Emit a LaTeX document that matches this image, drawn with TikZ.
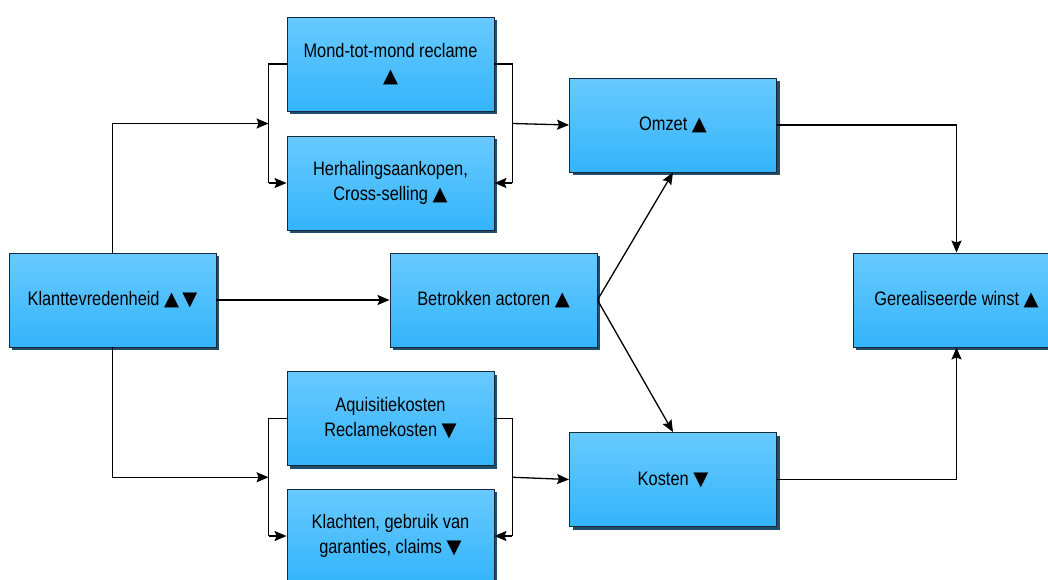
\documentclass[tikz,border=0pt]{standalone}
\usepackage{fontspec}
\setmainfont{Liberation Sans}[FakeStretch=0.84]
\newfontfamily\symfont{DejaVu Sans}
\usetikzlibrary{arrows.meta,shadows,calc}

\newcommand{\op}{{\symfont ▲}}
\newcommand{\neer}{{\symfont ▼}}

\definecolor{boxtop}{RGB}{104,202,255}
\definecolor{boxbot}{RGB}{52,180,250}
\definecolor{boxline}{RGB}{22,40,58}
\definecolor{boxshadow}{RGB}{34,78,110}

\tikzset{
  blok/.style={rectangle, draw=boxline, line width=0.9pt,
    top color=boxtop, bottom color=boxbot,
    minimum width=207pt, minimum height=94pt, inner sep=0pt,
    align=center, text=black,
    font=\fontsize{19.5}{25}\selectfont,
    general shadow={fill=boxshadow, shadow xshift=3pt, shadow yshift=-3pt}},
  verb/.style={line width=1.3pt, draw=black},
  pijl/.style={verb, -{Stealth[length=12pt,width=10pt,inset=2pt]}}
}

\begin{document}
\begin{tikzpicture}[x=1pt,y=-1pt]
\useasboundingbox (0,0) rectangle (1048,579);
\clip (0,0) rectangle (1048,579);

% boxes
\node[blok] (mond)   at (390.5,64)   {Mond-tot-mond reclame\\\op};
\node[blok] (herh)   at (390.5,183)  {Herhalingsaankopen,\\Cross-selling \op};
\node[blok] (omzet)  at (673,125)    {Omzet \op};
\node[blok] (klant)  at (112.5,300)  {Klanttevredenheid \op\,\neer};
\node[blok] (betr)   at (493.5,300)  {Betrokken actoren \op};
\node[blok] (winst)  at (956.5,300)  {Gerealiseerde winst \op};
\node[blok] (aqu)    at (390.5,418.5){Aquisitiekosten\\Reclamekosten \neer};
\node[blok] (klach)  at (390.5,536)  {Klachten, gebruik van\\garanties, claims \neer};
\node[blok] (kosten) at (673,479.5)  {Kosten \neer};

% bracket points
\coordinate (lb1) at ($(mond.west)+(-18,0)$);
\coordinate (lb2) at ($(herh.west)+(-18,0)$);
\coordinate (lbm) at ($(lb1)!0.5!(lb2)$);
\coordinate (rb1) at ($(mond.east)+(18,0)$);
\coordinate (rb2) at ($(herh.east)+(18,0)$);
\coordinate (rbm) at ($(rb1)!0.5!(rb2)$);
\coordinate (lc1) at ($(aqu.west)+(-18,0)$);
\coordinate (lc2) at ($(klach.west)+(-18,0)$);
\coordinate (lcm) at ($(lc1)!0.5!(lc2)$);
\coordinate (rc1) at ($(aqu.east)+(18,0)$);
\coordinate (rc2) at ($(klach.east)+(18,0)$);
\coordinate (rcm) at ($(rc1)!0.5!(rc2)$);

% upper branch
\draw[pijl] (klant.north) |- (lbm);
\draw[verb] (mond.west) -- (lb1) -- (lb2);
\draw[pijl] (lb2) -- (herh.west);
\draw[verb] (mond.east) -- (rb1) -- (rb2);
\draw[pijl] (rb2) -- (herh.east);
\draw[pijl] (rbm) -- (omzet.west);

% lower branch
\draw[pijl] (klant.south) |- (lcm);
\draw[verb] (aqu.west) -- (lc1) -- (lc2);
\draw[pijl] (lc2) -- (klach.west);
\draw[verb] (aqu.east) -- (rc1) -- (rc2);
\draw[pijl] (rc2) -- (klach.east);
\draw[pijl] (rcm) -- (kosten.west);

% middle
\draw[pijl] (klant.east) -- (betr.west);
\draw[pijl] (betr.east) -- (omzet.south);
\draw[pijl] (betr.east) -- (kosten.north);

% to profit
\draw[pijl] (omzet.east) -| (winst.north);
\draw[pijl] (kosten.east) -| (winst.south);
\end{tikzpicture}
\end{document}
